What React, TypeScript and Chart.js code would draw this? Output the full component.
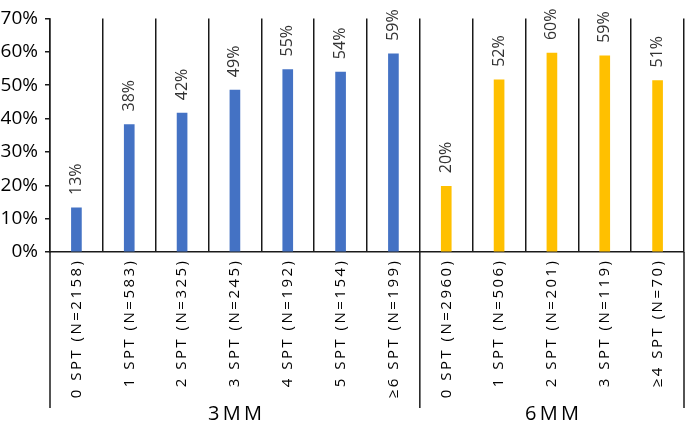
import React, { useEffect, useRef } from "react";
import { Chart, registerables } from "chart.js";

Chart.register(...registerables);

const categories = [
  "0 SPT (N=2158)",
  "1 SPT (N=583)",
  "2 SPT (N=325)",
  "3 SPT (N=245)",
  "4 SPT (N=192)",
  "5 SPT (N=154)",
  "≥6 SPT (N=199)",
  "0 SPT (N=2960)",
  "1 SPT (N=506)",
  "2 SPT (N=201)",
  "3 SPT (N=119)",
  "≥4 SPT (N=70)",
];
const values = [13.2, 38.2, 41.6, 48.5, 54.7, 53.9, 59.4, 19.7, 51.6, 59.6, 58.8, 51.4];
const groupNames = ["3MM", "6MM"];
const groupSizes = [7, 5];
const groupColors = ["#4472C4", "#FFC000"];
const yTicks = [0, 10, 20, 30, 40, 50, 60, 70];

const FONT = "'Open Sans', 'Noto Sans', sans-serif";
const LINE = "#1a1a1a";

function spaced(s: string, sep: string) {
  return Array.from(s).join(sep);
}

export default function App() {
  const ref = useRef<HTMLCanvasElement | null>(null);

  useEffect(() => {
    const canvas = ref.current;
    if (!canvas) return;
    const colors: string[] = [];
    groupSizes.forEach((n, g) => {
      for (let i = 0; i < n; i++) colors.push(groupColors[g]);
    });

    const overlay = {
      id: "overlay",
      afterDatasetsDraw(chart: any) {
        const ctx = chart.ctx;
        const meta = chart.getDatasetMeta(0);
        ctx.save();
        ctx.fillStyle = "#333333";
        ctx.font = `16px ${FONT}`;
        ctx.textAlign = "left";
        ctx.textBaseline = "middle";
        meta.data.forEach((bar: any, i: number) => {
          ctx.save();
          ctx.translate(bar.x, bar.y - 13);
          ctx.rotate(-Math.PI / 2);
          ctx.fillText(Math.round(values[i]) + "%", 0, 0);
          ctx.restore();
        });
        ctx.restore();
      },
      afterDraw(chart: any) {
        const ctx = chart.ctx;
        const xs = chart.scales.x;
        const area = chart.chartArea;
        const half = (xs.getPixelForValue(1) - xs.getPixelForValue(0)) / 2;
        const bottom = 408;
        ctx.save();
        ctx.strokeStyle = LINE;
        ctx.lineWidth = 1.5;
        let start = 0;
        const edges: number[] = [xs.getPixelForValue(0) - half];
        groupSizes.forEach((n) => {
          edges.push(xs.getPixelForValue(start + n - 1) + half);
          start += n;
        });
        edges.forEach((x) => {
          ctx.beginPath();
          ctx.moveTo(x, area.bottom);
          ctx.lineTo(x, bottom);
          ctx.stroke();
        });
        ctx.fillStyle = "#000";
        ctx.font = `20px ${FONT}`;
        ctx.textAlign = "center";
        ctx.textBaseline = "middle";
        groupNames.forEach((name, g) => {
          const cx = (edges[g] + edges[g + 1]) / 2;
          ctx.fillText(spaced(name, "\u2009"), cx, 414);
        });
        ctx.restore();
      },
    };

    const chart = new Chart(canvas, {
      type: "bar",
      data: {
        labels: categories,
        datasets: [
          {
            data: values,
            backgroundColor: colors,
            barThickness: 10,
          },
        ],
      },
      options: {
        animation: false,
        responsive: false,
        maintainAspectRatio: false,
        layout: { padding: { top: 14, right: 1, left: 0, bottom: 0 } },
        plugins: { legend: { display: false }, tooltip: { enabled: false } },
        scales: {
          x: {
            offset: true,
            grid: {
              display: true,
              offset: true,
              drawTicks: false,
              color: LINE,
              lineWidth: 1.5,
            },
            border: { display: true, color: LINE, width: 1.5 },
            ticks: {
              autoSkip: false,
              minRotation: 90,
              maxRotation: 90,
              padding: 9,
              color: "#000",
              font: { family: FONT, size: 15 },
              callback: (_v: any, i: number) => spaced(categories[i], "\u2009"),
            },
            afterFit: (s: any) => {
              s.height = 176;
            },
          },
          y: {
            min: 0,
            max: 70,
            afterBuildTicks: (s: any) => {
              s.ticks = yTicks.map((v) => ({ value: v }));
            },
            grid: {
              drawOnChartArea: false,
              drawTicks: true,
              tickLength: 5,
              color: LINE,
              lineWidth: 1.5,
            },
            border: { display: true, color: LINE, width: 1.5 },
            ticks: {
              padding: 7,
              color: "#000",
              font: { family: FONT, size: 19 },
              callback: (v: any) => v + "%",
            },
            afterFit: (s: any) => {
              s.width = 50;
            },
          },
        },
      },
      plugins: [overlay],
    });
    return () => chart.destroy();
  }, []);

  return (
    <div style={{ position: "fixed", left: 0, top: 0, width: 685, height: 428, background: "#fff" }}>
      <canvas ref={ref} width={685} height={428} style={{ width: 685, height: 428 }} />
    </div>
  );
}
